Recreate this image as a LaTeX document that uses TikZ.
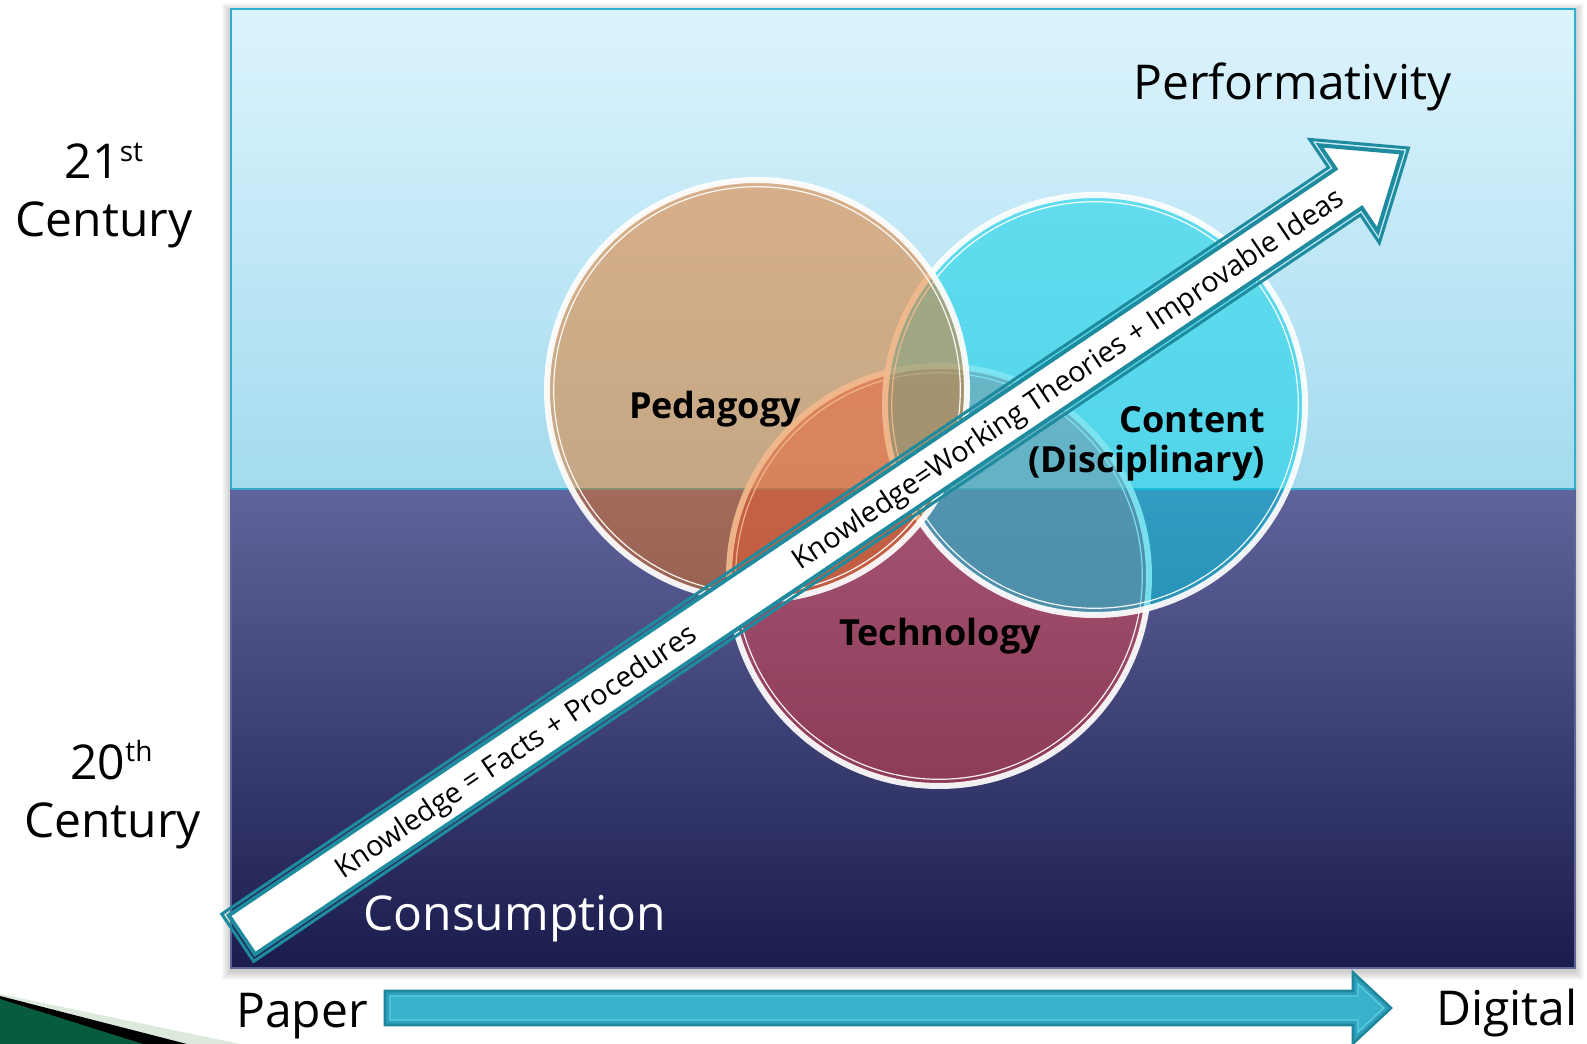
\documentclass[tikz,border=0pt]{standalone}
\usepackage{fontspec}
\setmainfont{Open Sans}
\definecolor{skyTop}{RGB}{221,244,254}
\definecolor{skyBot}{RGB}{163,219,238}
\definecolor{navyTop}{RGB}{96,100,156}
\definecolor{navyBot}{RGB}{26,28,76}
\definecolor{rimSky}{RGB}{47,176,207}
\definecolor{rimNavy}{RGB}{95,100,150}
\definecolor{horizon}{RGB}{50,170,200}
\definecolor{pedC}{RGB}{231,114,24}
\definecolor{conC}{RGB}{7,208,231}
\definecolor{tecC}{RGB}{250,64,67}
\definecolor{arrTeal}{RGB}{31,139,158}
\definecolor{barDark}{RGB}{30,135,155}
\definecolor{barFill}{RGB}{45,162,188}
\definecolor{barIn}{RGB}{55,178,202}
\definecolor{barLine}{RGB}{100,205,225}
\definecolor{grDark}{RGB}{8,92,62}
\definecolor{grPale}{RGB}{221,233,220}
\begin{document}
\begin{tikzpicture}[x=0.75pt,y=-0.75pt,
  vennfill/.style={circle, inner sep=0pt, minimum size=315pt, fill opacity=#1, draw=none},
  ringband/.style={white, line width=4.5pt, draw opacity=0.92},
  ringline/.style={white, line width=0.9pt, draw opacity=0.92},
  biglabel/.style={font=\fontsize{36}{36}\selectfont, inner sep=0pt},
  venlabel/.style={font=\bfseries\fontsize{27}{27}\selectfont, inner sep=0pt},
  arrtext/.style={font=\fontsize{21.5}{21.5}\selectfont, inner sep=0pt, rotate=34},
  miter/.style={line join=miter, miter limit=20}]
\useasboundingbox (0,0) rectangle (1587,1044);
% shadow
\foreach \i in {1,...,9} {
  \fill[black, opacity=0.022] (231-\i,9-\i+3) rectangle (1575+\i,968+\i+3);
}
% background
\shade[top color=skyTop, bottom color=skyBot] (231,9) rectangle (1575,489);
\shade[top color=navyTop, bottom color=navyBot] (231,489) rectangle (1575,968);
\draw[rimSky, line width=1.5pt] (231,489) -- (231,9) -- (1575,9) -- (1575,489);
\draw[rimNavy, line width=1.5pt] (231,489) -- (231,968) -- (1575,968) -- (1575,489);
\draw[horizon, line width=1pt] (231,489) -- (1575,489);
% venn circles
\node[vennfill=0.45, fill=tecC] (tec) at (939,576) {};
\draw[ringband] (tec.center) circle (210);
\draw[ringline] (tec.center) circle (203.3);
\node[vennfill=0.52, fill=conC] (con) at (1095,405) {};
\draw[ringband] (con.center) circle (210);
\draw[ringline] (con.center) circle (203.3);
\node[vennfill=0.49, fill=pedC] (ped) at (757,390) {};
\draw[ringband] (ped.center) circle (210);
\draw[ringline] (ped.center) circle (203.3);
\node[venlabel, anchor=base] (pedlab) at (715,418) {Pedagogy};
\node[venlabel, anchor=base east] (conlab1) at (1265,432) {Content};
\node[venlabel, anchor=base east] (conlab2) at (1265,472) {(Disciplinary)};
\node[venlabel, anchor=base] (teclab) at (940,645) {Technology};
% big diagonal arrow
\begin{scope}[shift={(236.5,938.5)}, rotate=34]
  \draw[arrTeal, line width=2.25pt, miter]
    (1.5,-28.5) -- (1336.5,-28.5) -- (1336.5,-62.36) -- (1413.6,0) --
    (1336.5,62.36) -- (1336.5,28.5) -- (1.5,28.5) -- cycle;
  \draw[arrTeal, fill=white, line width=3pt, miter]
    (6.5,-23.5) -- (1341.5,-23.5) -- (1341.5,-51.88) -- (1405.66,0) --
    (1341.5,51.88) -- (1341.5,23.5) -- (6.5,23.5) -- cycle;
  \node[arrtext] (know1) at (336,3) {Knowledge = Facts + Procedures};
  \node[arrtext] (know2) at (1002,3) {Knowledge=Working Theories + Improvable Ideas};
\end{scope}
% texts
\node[biglabel, anchor=base west] (perf) at (1133,100) {Performativity};
\node[biglabel, anchor=base west, text=white] (cons) at (363,930) {Consumption};
\node[biglabel, anchor=base] (c21a) at (104,179) {21{\fontsize{21}{21}\selectfont\raisebox{13pt}{st}}};
\node[biglabel, anchor=base] (c21b) at (104,237) {Century};
\node[biglabel, anchor=base] (c20a) at (111.5,779) {20{\fontsize{21}{21}\selectfont\raisebox{13pt}{th}}};
\node[biglabel, anchor=base] (c20b) at (112.5,837) {Century};
\node[biglabel, anchor=base west] (paper) at (236,1027) {Paper};
\node[biglabel, anchor=base west] (digital) at (1436,1025) {Digital};
% bottom arrow
\coordinate (barS) at (385,1008);
\coordinate (barT) at (1391,1008);
\draw[barDark, fill=barFill, line width=2pt, miter]
  (385,991) -- (1353,991) -- (1353,972.5) -- (barT) -- (1353,1043.5) -- (1353,1025) -- (385,1025) -- cycle;
\draw[barLine, fill=barIn, line width=1pt, miter]
  (390,996) -- (1358,996) -- (1358,984) -- (1383.7,1008) -- (1358,1032) -- (1358,1020) -- (390,1020) -- cycle;
% green swoosh
\fill[grPale] (0,994) -- (240,1044) -- (0,1044) -- cycle;
\fill[black] (0,996) -- (187,1044) -- (0,1044) -- cycle;
\fill[grDark] (0,999) -- (143,1044) -- (0,1044) -- cycle;
\end{tikzpicture}
\end{document}
